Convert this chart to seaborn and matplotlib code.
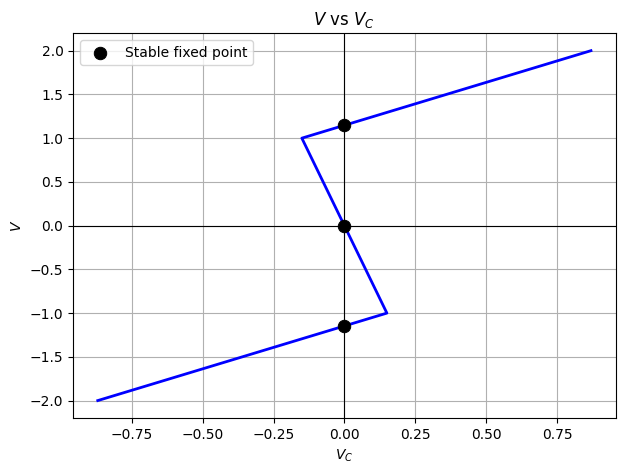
import numpy as np
import pandas as pd
import matplotlib
matplotlib.use("Agg")
import matplotlib.pyplot as plt
import seaborn as sns

# Piecewise-linear curve (V_C, V)
curve_vc = [-0.87, 0.15, -0.15, 0.87]
curve_v = [-2.0, -1.0, 1.0, 2.0]

# Fixed points on V_C = 0
fixed_vc = [0.0, 0.0, 0.0]
fixed_v = [1.15, 0.0, -1.15]

df_curve = pd.DataFrame({"Vc": curve_vc, "V": curve_v})
df_fixed = pd.DataFrame({"Vc": fixed_vc, "V": fixed_v})

fig, ax = plt.subplots(figsize=(6.25, 4.74), dpi=100)

sns.lineplot(data=df_curve, x="Vc", y="V", sort=False, estimator=None,
             color="blue", linewidth=2, ax=ax)
ax.axhline(0, color="black", linewidth=0.8)
ax.axvline(0, color="black", linewidth=0.8)
sns.scatterplot(data=df_fixed, x="Vc", y="V", color="black", s=80,
                edgecolor="black", zorder=5, label="Stable fixed point", ax=ax)

ax.set_xlabel("$V_C$")
ax.set_ylabel("$V$")
ax.set_title("$V$ vs $V_C$")
ax.grid(True)
ax.legend(loc="upper left")

fig.subplots_adjust(left=0.117, right=0.985, top=0.930, bottom=0.118)
plt.savefig("out.png")
